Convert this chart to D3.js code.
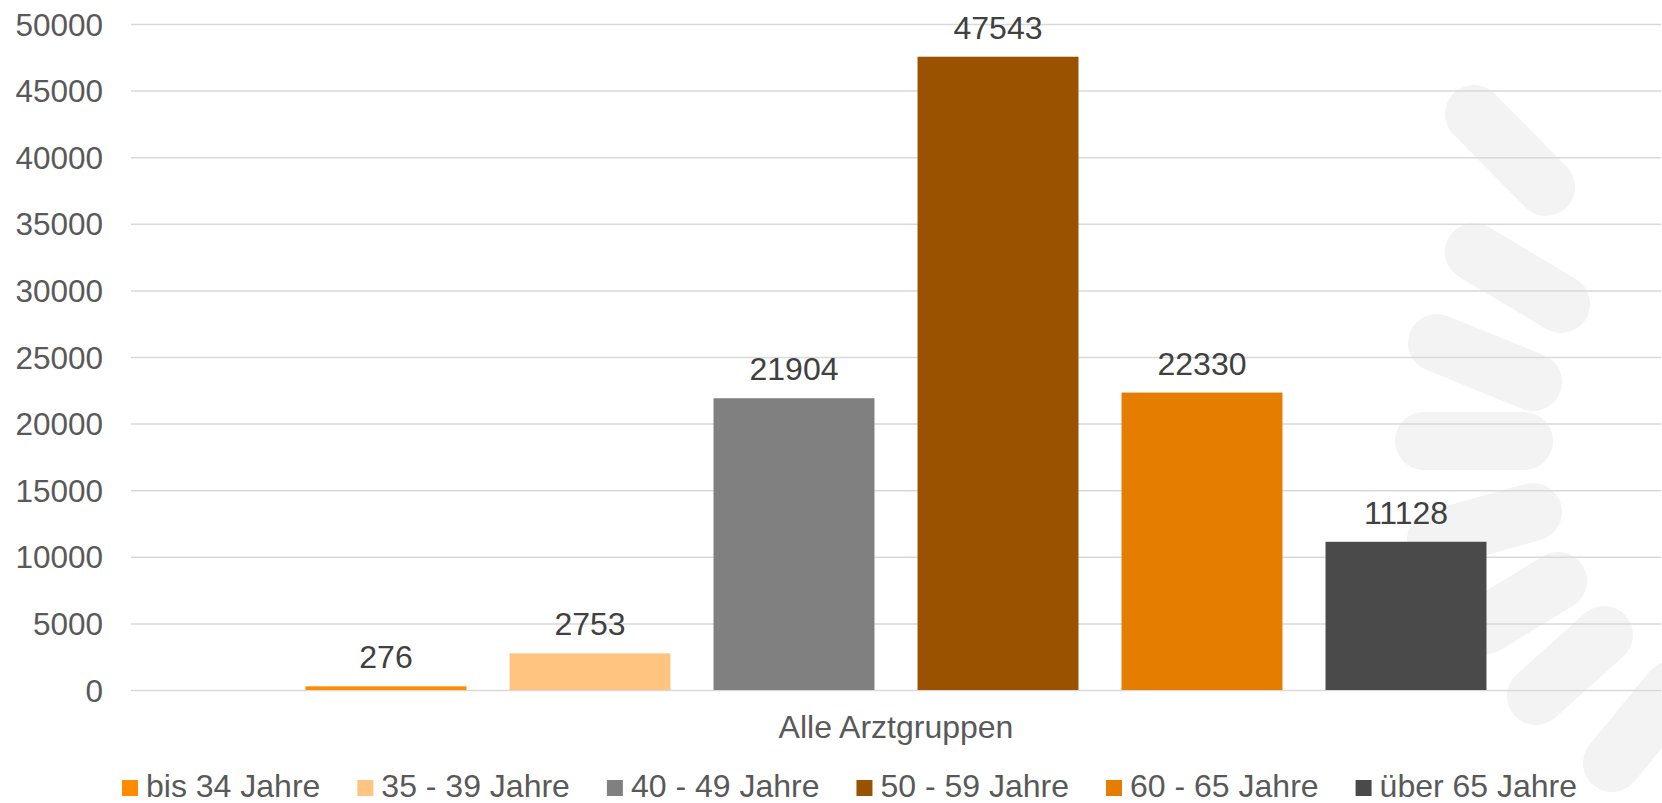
<!DOCTYPE html>
<html>
<head>
<meta charset="utf-8">
<script src="https://cdn.jsdelivr.net/npm/d3@7"></script>
<style>
  body { margin: 0; background: #fff; }
  text { font-family: "Liberation Sans", Arial, sans-serif; }
</style>
</head>
<body>
<div id="chart"></div>
<script>
// data
const categories = ["Alle Arztgruppen"];
const seriesNames = ["bis 34 Jahre", "35 - 39 Jahre", "40 - 49 Jahre", "50 - 59 Jahre", "60 - 65 Jahre", "über 65 Jahre"];
const seriesValues = [276, 2753, 21904, 47543, 22330, 11128];
const seriesColors = ["#ff8c00", "#ffc580", "#808080", "#9a5200", "#e57e00", "#4a4a4a"];
const yTicks = [0, 5000, 10000, 15000, 20000, 25000, 30000, 35000, 40000, 45000, 50000];

// background logo rays (decoration only)
const rays = [
  [[1474, 114], [1546, 187]],
  [[1474, 252], [1561, 304]],
  [[1437, 343], [1533, 382]],
  [[1424, 441], [1524, 441]],
  [[1436, 539], [1533, 512]],
  [[1486, 625], [1558, 581]],
  [[1536, 696], [1604, 635]],
  [[1612, 763], [1672, 690]]
];

const width = 1662, height = 803;
const margin = {top: 24, right: 1, bottom: 113, left: 131};

const svg = d3.select("#chart").append("svg")
    .attr("width", width)
    .attr("height", height);

// watermark
svg.append("g").selectAll("path")
    .data(rays)
    .enter().append("path")
    .attr("d", d3.line())
    .attr("fill", "none")
    .attr("stroke", "#f3f3f3")
    .attr("stroke-width", 58)
    .attr("stroke-linecap", "round");

const yScale = d3.scaleLinear()
    .domain([0, 50000])
    .range([height - margin.bottom, margin.top]);

const x0 = d3.scaleBand()
    .domain(categories)
    .range([margin.left, width - margin.right])
    .paddingOuter(0.125);

const x1 = d3.scaleBand()
    .domain(seriesNames)
    .range([0, x0.bandwidth()])
    .paddingInner(0.211)
    .paddingOuter(0.1055);

// gridlines
const yAxis = d3.axisLeft(yScale)
    .tickValues(yTicks)
    .tickSize(-(width - margin.left - margin.right))
    .tickPadding(28)
    .tickFormat(d3.format("d"));

const gy = svg.append("g")
    .attr("transform", `translate(${margin.left},0)`)
    .call(yAxis);
gy.select(".domain").remove();
gy.selectAll(".tick line")
    .attr("stroke", "#d9d9d9")
    .attr("stroke-width", 1.5);
gy.selectAll(".tick text")
    .attr("fill", "#595959")
    .attr("font-size", 31.5)
    .attr("dy", "0.35em");

// bars
const data = seriesNames.map((s, i) => ({name: s, value: seriesValues[i], color: seriesColors[i]}));

const grp = svg.append("g")
    .attr("transform", `translate(${x0(categories[0])},0)`);

grp.selectAll("rect")
    .data(data)
    .enter().append("rect")
    .attr("x", d => x1(d.name))
    .attr("y", d => yScale(d.value))
    .attr("width", x1.bandwidth())
    .attr("height", d => yScale(0) - yScale(d.value))
    .attr("fill", d => d.color);

grp.selectAll(".lbl")
    .data(data)
    .enter().append("text")
    .attr("class", "lbl")
    .attr("x", d => x1(d.name) + x1.bandwidth() / 2)
    .attr("y", d => yScale(d.value) - 18)
    .attr("text-anchor", "middle")
    .attr("font-size", 32)
    .attr("fill", "#404040")
    .text(d => d.value);

// category label
svg.append("text")
    .attr("x", x0(categories[0]) + x0.bandwidth() / 2)
    .attr("y", 738)
    .attr("text-anchor", "middle")
    .attr("font-size", 32)
    .attr("fill", "#595959")
    .text(categories[0]);

// legend
const legend = svg.append("g");
let lx = 122;
data.forEach(d => {
    legend.append("rect")
        .attr("x", lx)
        .attr("y", 780)
        .attr("width", 16)
        .attr("height", 16)
        .attr("fill", d.color);
    const t = legend.append("text")
        .attr("x", lx + 24)
        .attr("y", 797)
        .attr("font-size", 32)
        .attr("fill", "#595959")
        .text(d.name);
    lx += 24 + t.node().getComputedTextLength() + 37;
});
</script>
</body>
</html>
